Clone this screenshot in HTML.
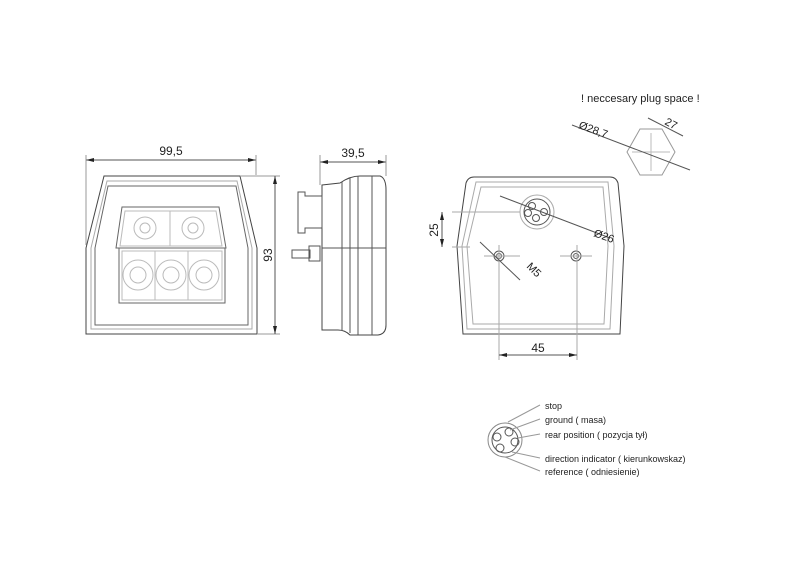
<!DOCTYPE html>
<html><head><style>body{margin:0;background:#fff}svg{display:block}text{font-family:"Liberation Sans",sans-serif;fill:#222}</style></head><body>
<svg width="800" height="566" viewBox="0 0 800 566" xmlns="http://www.w3.org/2000/svg">
<g fill="none" stroke="#555" stroke-width="1">
<!-- front view -->
<path d="M104,176 L240,176 L257,248 L257,334 L86,334 L86,248 Z" stroke="#444"/>
<path d="M107,181 L237,181 L252,248 L252,329 L91,329 L91,248 Z" stroke="#aaa"/>
<path d="M108,186 L236,186 L248,248 L248,325 L95,325 L95,248 Z" stroke="#666"/>
<path d="M122,207 L219,207 L226,248 L116,248 Z" stroke="#666"/>
<path d="M125,211 L216,211 L222,246 L120,246 Z" stroke="#bbb"/>
<rect x="119" y="248" width="106" height="55" stroke="#666"/>
<rect x="122" y="251" width="100" height="49" stroke="#bbb"/>
<g stroke="#bbb">
<circle cx="145" cy="228" r="11"/><circle cx="145" cy="228" r="5"/>
<circle cx="193" cy="228" r="11"/><circle cx="193" cy="228" r="5"/>
<circle cx="138" cy="275" r="15"/><circle cx="138" cy="275" r="8"/>
<circle cx="171" cy="275" r="15"/><circle cx="171" cy="275" r="8"/>
<circle cx="204" cy="275" r="15"/><circle cx="204" cy="275" r="8"/>
<line x1="155" y1="251" x2="155" y2="300"/><line x1="188" y1="251" x2="188" y2="300"/>
<line x1="170" y1="211" x2="170" y2="246"/>
</g>
<!-- dims front -->
<line x1="86" y1="160" x2="256" y2="160"/>
<line x1="86" y1="155" x2="86" y2="245" stroke="#999"/>
<line x1="256" y1="155" x2="256" y2="175" stroke="#999"/>
<line x1="240" y1="176" x2="280" y2="176" stroke="#999"/>
<line x1="257" y1="334" x2="280" y2="334" stroke="#999"/>
<line x1="275" y1="176" x2="275" y2="334"/>
<!-- side view -->
<path d="M322,185 L340,183 Q350,176 360,176 L380,176 Q386,178 386,190 L386,325 Q386,334 378,335 L350,335 Q345,330 338,330 L322,330 Z" stroke="#444"/>
<line x1="342" y1="182" x2="342" y2="330"/><line x1="350" y1="178" x2="350" y2="333"/>
<line x1="358" y1="176" x2="358" y2="335"/><line x1="372" y1="176" x2="372" y2="335"/>
<line x1="322" y1="248" x2="386" y2="248"/>
<path d="M298,192 L305,192 L305,196 L322,196 L322,228 L305,228 L305,233 L298,233 Z"/>
<rect x="292" y="250" width="18" height="8"/>
<rect x="309" y="246" width="11" height="15"/>
<line x1="320" y1="162" x2="386" y2="162"/>
<line x1="320" y1="155" x2="320" y2="185" stroke="#999"/>
<line x1="386" y1="155" x2="386" y2="176" stroke="#999"/>
<!-- back view -->
<path d="M474,177 L610,177 Q616,177 618,183 L624,246 L620,334 L463,334 L457,246 L466,183 Q468,177 474,177 Z" stroke="#444"/>
<path d="M476,182 L608,182 L614,246 L610,329 L467,329 L462,246 Z" stroke="#aaa"/>
<path d="M481,187 L603,187 L608,246 L604,324 L473,324 L467,246 Z" stroke="#aaa"/>
<circle cx="537" cy="212" r="17" stroke="#aaa"/>
<circle cx="537" cy="212" r="13"/>
<circle cx="532" cy="206" r="3.5"/><circle cx="544" cy="212" r="3.5"/><circle cx="536" cy="218" r="3.5"/><circle cx="528" cy="213" r="3.5"/>
<circle cx="499" cy="256" r="5"/><circle cx="499" cy="256" r="2.5"/>
<circle cx="576" cy="256" r="5"/><circle cx="576" cy="256" r="2.5"/>
<g stroke="#aaa"><line x1="484" y1="256" x2="520" y2="256"/><line x1="560" y1="256" x2="592" y2="256"/>
<line x1="499" y1="245" x2="499" y2="360"/><line x1="577" y1="245" x2="577" y2="360"/>
<line x1="452" y1="212" x2="520" y2="212"/><line x1="452" y1="247" x2="470" y2="247"/></g>
<line x1="499" y1="355" x2="577" y2="355"/>
<line x1="442" y1="212" x2="442" y2="247"/>
<line x1="500" y1="196" x2="610" y2="238"/>
<line x1="480" y1="242" x2="520" y2="280"/>
<!-- plug -->
<path d="M640,129 L662,129 L675,152 L662,175 L640,175 L627,152 Z" stroke="#999"/>
<line x1="651" y1="133" x2="651" y2="171" stroke="#bbb"/><line x1="632" y1="152" x2="670" y2="152" stroke="#bbb"/>
<line x1="572" y1="125" x2="690" y2="170"/>
<line x1="648" y1="118" x2="683" y2="136"/>
<!-- legend -->
<circle cx="505" cy="440" r="17" stroke="#888"/>
<circle cx="505" cy="440" r="13"/>
<circle cx="509" cy="432" r="4"/><circle cx="515" cy="442" r="4"/><circle cx="500" cy="448" r="4"/><circle cx="497" cy="437" r="4"/>
<g stroke="#999"><path d="M508,422 L540,405"/><path d="M510,430 L540,419"/><path d="M518,438 L540,434"/><path d="M512,452 L540,458"/><path d="M505,457 L540,471"/></g>
</g>
<g fill="#222">
<polygon points="86,160 94,158 94,162"/><polygon points="256,160 248,158 248,162"/>
<polygon points="275,176 273,184 277,184"/><polygon points="275,334 273,326 277,326"/>
<polygon points="320,162 328,160 328,164"/><polygon points="386,162 378,160 378,164"/>
<polygon points="499,355 507,353 507,357"/><polygon points="577,355 569,353 569,357"/>
<polygon points="442,212 440,220 444,220"/><polygon points="442,247 440,239 444,239"/>
</g>
<text x="171" y="155" font-size="12" text-anchor="middle">99,5</text>
<text x="353" y="157" font-size="12" text-anchor="middle">39,5</text>
<text x="272" y="255" font-size="12" text-anchor="middle" transform="rotate(-90 272 255)">93</text>
<text x="538" y="352" font-size="12" text-anchor="middle">45</text>
<text x="438" y="230" font-size="12" text-anchor="middle" transform="rotate(-90 438 230)">25</text>
<text x="593" y="236" font-size="11" transform="rotate(20 593 236)">Ø26</text>
<text x="526" y="267" font-size="11" transform="rotate(45 526 267)">M5</text>
<text x="578" y="128" font-size="11" transform="rotate(20 578 128)">Ø28,7</text>
<text x="664" y="124" font-size="11" transform="rotate(28 664 124)">27</text>
<text x="581" y="102" font-size="11">! neccesary plug space !</text>
<text x="545" y="409" font-size="9">stop</text>
<text x="545" y="423" font-size="9">ground  ( masa)</text>
<text x="545" y="438" font-size="9">rear position  ( pozycja tył)</text>
<text x="545" y="462" font-size="9">direction indicator  ( kierunkowskaz)</text>
<text x="545" y="475" font-size="9">reference  ( odniesienie)</text>
</svg>
</body></html>
